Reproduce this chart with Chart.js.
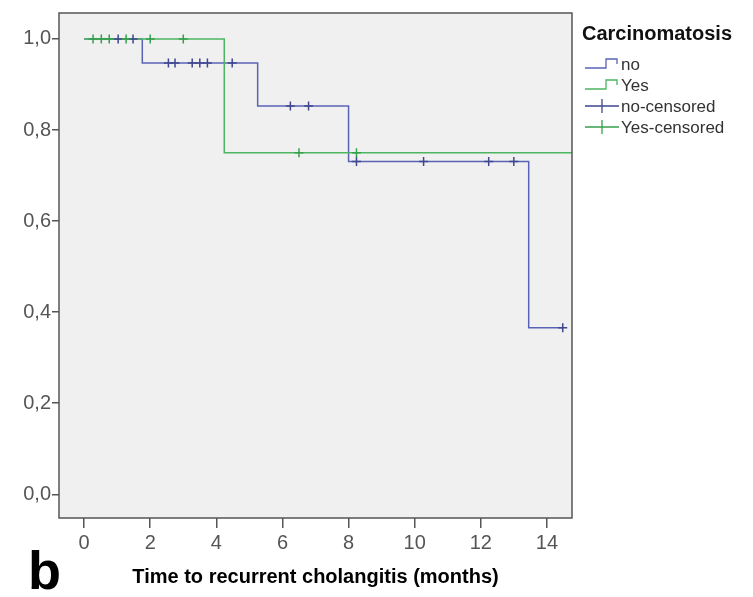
<!DOCTYPE html>
<html>
<head>
<meta charset="utf-8">
<script src="https://cdn.jsdelivr.net/npm/chart.js@4.4.1/dist/chart.umd.min.js"></script>
<style>
  html, body { margin: 0; padding: 0; background: #fff; }
  #km { display: block; }
</style>
</head>
<body>
<canvas id="km" width="753" height="597"></canvas>
<script>
// Kaplan-Meier steps (time in months, survival after the event)
var noTimes = [0, 1.76, 5.25, 8.0, 13.45, 14.5];
var noSurv = [1.0, 0.947, 0.853, 0.731, 0.366, 0.366];
var yesTimes = [0, 4.24, 14.9];
var yesSurv = [1.0, 0.75, 0.75];

// censored observations
var noCensTimes = [1.03, 1.48, 2.55, 2.75, 3.27, 3.5, 3.73, 4.48, 6.24, 6.79, 8.24, 10.27, 12.24, 13.0, 14.48];
var noCensSurv = [1, 1, 0.947, 0.947, 0.947, 0.947, 0.947, 0.947, 0.853, 0.853, 0.731, 0.731, 0.731, 0.731, 0.366];
var yesCensTimes = [0.27, 0.52, 0.76, 1.27, 2.0, 3.0, 6.5, 8.24];
var yesCensSurv = [1, 1, 1, 1, 1, 1, 0.75, 0.75];

var xTicks = [0, 2, 4, 6, 8, 10, 12, 14];
var yTicks = [0, 0.2, 0.4, 0.6, 0.8, 1.0];

var legendTitle = 'Carcinomatosis';
var legendLabels = ['no', 'Yes', 'no-censored', 'Yes-censored'];

var blue = '#5a62b6';
var green = '#4cb560';
var blueMark = '#3f478f';
var greenMark = '#35a04c';

var FONT = '"Liberation Sans", Arial, sans-serif';

function pts(xs, ys) {
    return xs.map(function (x, i) { return {x: x, y: ys[i]}; });
}

// grey plot background + frame, legend, axis title and panel letter
var decor = {
    id: 'decor',
    beforeDatasetsDraw: function (chart) {
        var ctx = chart.ctx, a = chart.chartArea;
        ctx.save();
        ctx.fillStyle = '#f0f0f0';
        ctx.fillRect(a.left, a.top, a.right - a.left, a.bottom - a.top);
        ctx.restore();
    },
    afterDraw: function (chart) {
        var ctx = chart.ctx, a = chart.chartArea;
        ctx.save();
        ctx.strokeStyle = '#555';
        ctx.lineWidth = 1.5;
        ctx.strokeRect(a.left, a.top, a.right - a.left, a.bottom - a.top);

        // legend
        ctx.fillStyle = '#111';
        ctx.font = 'bold 20px ' + FONT;
        ctx.textBaseline = 'middle';
        ctx.textAlign = 'left';
        ctx.fillText(legendTitle, 582, 34);

        var cols = [blue, green, blueMark, greenMark];
        ctx.font = '17px ' + FONT;
        for (var i = 0; i < legendLabels.length; i++) {
            var y = 64 + i * 21;
            ctx.strokeStyle = cols[i];
            ctx.lineWidth = 1.3;
            ctx.beginPath();
            if (i < 2) {
                ctx.moveTo(585, y + 4);
                ctx.lineTo(606, y + 4);
                ctx.lineTo(606, y - 5);
                ctx.lineTo(617, y - 5);
                ctx.lineTo(617, y);
            } else {
                ctx.moveTo(585, y);
                ctx.lineTo(619, y);
                ctx.moveTo(602, y - 7);
                ctx.lineTo(602, y + 7);
            }
            ctx.stroke();
            ctx.fillStyle = '#333';
            ctx.fillText(legendLabels[i], 621, y + 1);
        }

        // x axis title
        ctx.fillStyle = '#000';
        ctx.font = 'bold 20px ' + FONT;
        ctx.textAlign = 'center';
        ctx.fillText('Time to recurrent cholangitis (months)', (a.left + a.right) / 2, 577);

        // panel letter
        ctx.textAlign = 'left';
        ctx.textBaseline = 'alphabetic';
        ctx.font = 'bold 54px ' + FONT;
        ctx.fillText('b', 28, 589);
        ctx.restore();
    }
};

var ctx = document.getElementById('km').getContext('2d');
var chart = new Chart(ctx, {
    type: 'scatter',
    data: {
        datasets: [
            {
                label: 'Yes-censored',
                data: pts(yesCensTimes, yesCensSurv),
                showLine: false,
                pointStyle: 'cross',
                pointRadius: 4.5,
                pointBorderWidth: 1.5,
                borderColor: greenMark,
                backgroundColor: greenMark
            },
            {
                label: 'no-censored',
                data: pts(noCensTimes, noCensSurv),
                showLine: false,
                pointStyle: 'cross',
                pointRadius: 4.5,
                pointBorderWidth: 1.5,
                borderColor: blueMark,
                backgroundColor: blueMark
            },
            {
                label: 'Yes',
                data: pts(yesTimes, yesSurv),
                showLine: true,
                stepped: 'before',
                pointRadius: 0,
                borderWidth: 1.5,
                borderColor: green
            },
            {
                label: 'no',
                data: pts(noTimes, noSurv),
                showLine: true,
                stepped: 'before',
                pointRadius: 0,
                borderWidth: 1.5,
                borderColor: blue
            }
        ]
    },
    options: {
        responsive: false,
        animation: false,
        layout: {
            padding: {left: 0, top: 13, right: 181, bottom: 0}
        },
        plugins: {
            legend: {display: false},
            tooltip: {enabled: false}
        },
        scales: {
            x: {
                type: 'linear',
                min: -0.76,
                max: 14.76,
                afterBuildTicks: function (scale) {
                    scale.ticks = xTicks.map(function (v) { return {value: v}; });
                },
                afterFit: function (scale) { scale.height = 79; },
                border: {display: false},
                grid: {
                    drawOnChartArea: false,
                    tickLength: 10,
                    color: '#555',
                    lineWidth: 1.5
                },
                ticks: {
                    padding: 3,
                    color: '#555',
                    font: {family: FONT, size: 20}
                }
            },
            y: {
                min: -0.052,
                max: 1.057,
                afterBuildTicks: function (scale) {
                    scale.ticks = yTicks.map(function (v) { return {value: v}; });
                },
                afterFit: function (scale) { scale.width = 59; },
                border: {display: false},
                grid: {
                    drawOnChartArea: false,
                    tickLength: 7,
                    color: '#555',
                    lineWidth: 1.5
                },
                ticks: {
                    padding: 1,
                    color: '#555',
                    font: {family: FONT, size: 20},
                    callback: function (v) { return v.toFixed(1).replace('.', ','); }
                }
            }
        }
    },
    plugins: [decor]
});
</script>
</body>
</html>
